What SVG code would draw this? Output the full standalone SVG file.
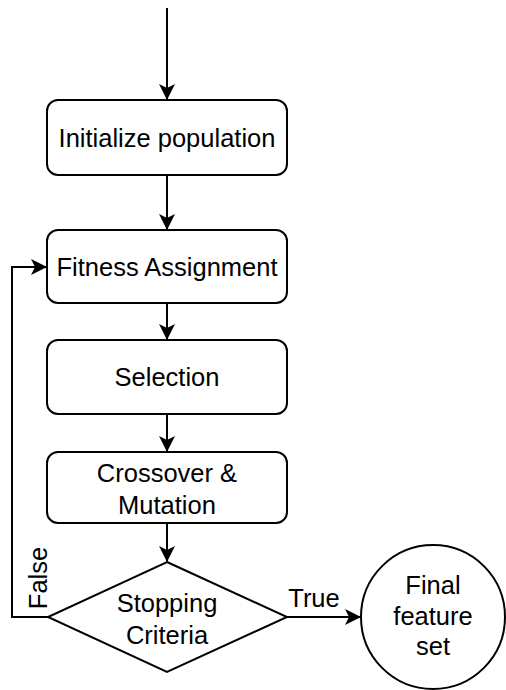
<svg xmlns="http://www.w3.org/2000/svg" width="506" height="690" viewBox="0 0 506 690">
  <style>
    .box { fill: #ffffff; stroke: #000000; stroke-width: 2; }
    .edge { fill: none; stroke: #000000; stroke-width: 2; }
    .lbl { font-family: "Liberation Sans", Arial, sans-serif; font-size: 25.5px; fill: #000000; text-anchor: middle; }
  </style>
  <defs>
    <marker id="arrow" markerUnits="userSpaceOnUse" viewBox="0 0 16 16" refX="15" refY="8" markerWidth="16" markerHeight="16" orient="auto">
      <path d="M0,0 L16,8 L0,16 L4,8 Z" fill="#000000"/>
    </marker>
  </defs>

  <rect width="506" height="690" fill="#ffffff"/>

  <g id="connectors">
    <path class="edge" d="M167,8 V99" marker-end="url(#arrow)"/>
    <path class="edge" d="M167,175 V229" marker-end="url(#arrow)"/>
    <path class="edge" d="M167,303 V339" marker-end="url(#arrow)"/>
    <path class="edge" d="M167,414 V451" marker-end="url(#arrow)"/>
    <path class="edge" d="M167,523 V561" marker-end="url(#arrow)"/>
    <path class="edge" d="M287,617 H360" marker-end="url(#arrow)"/>
    <path class="edge" d="M48,617 H12 V267 H46" marker-end="url(#arrow)"/>
    <text class="lbl" x="314" y="607">True</text>
    <text class="lbl" transform="translate(47,578) rotate(-90)">False</text>
  </g>

  <g id="init">
    <rect class="box" x="47" y="100" width="240" height="75" rx="11"/>
    <text class="lbl" x="167" y="146.5">Initialize population</text>
  </g>

  <g id="fitness">
    <rect class="box" x="47" y="230" width="240" height="73" rx="11"/>
    <text class="lbl" x="167" y="276">Fitness Assignment</text>
  </g>

  <g id="selection">
    <rect class="box" x="47" y="340" width="240" height="74" rx="11"/>
    <text class="lbl" x="167" y="386">Selection</text>
  </g>

  <g id="crossover">
    <rect class="box" x="47" y="452" width="240" height="71" rx="11"/>
    <text class="lbl" x="167" y="482">Crossover &amp;</text>
    <text class="lbl" x="167" y="514">Mutation</text>
  </g>

  <g id="stopping">
    <polygon class="box" points="167,562 287,617 167,672 48,617"/>
    <text class="lbl" x="167" y="612">Stopping</text>
    <text class="lbl" x="167" y="644">Criteria</text>
  </g>

  <g id="final">
    <circle class="box" cx="433" cy="617" r="72"/>
    <text class="lbl" x="433" y="594">Final</text>
    <text class="lbl" x="433" y="625">feature</text>
    <text class="lbl" x="433" y="655">set</text>
  </g>
</svg>
